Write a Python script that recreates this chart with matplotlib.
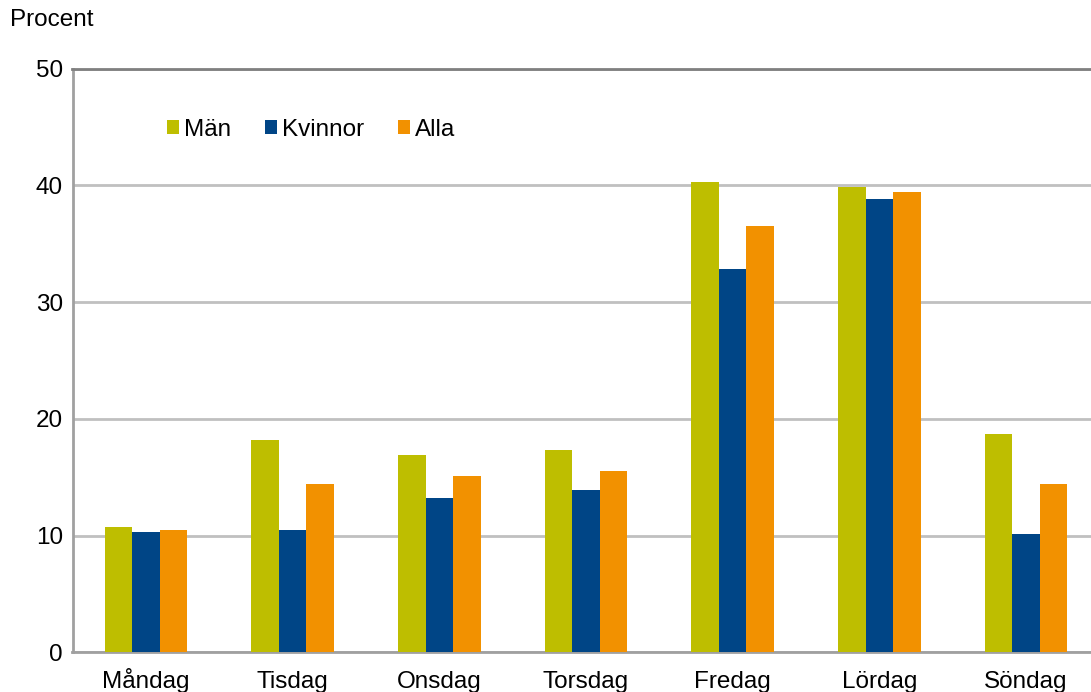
import matplotlib
matplotlib.use('Agg')
import matplotlib.pyplot as plt
import numpy as np

# data
dagar = ['Måndag', 'Tisdag', 'Onsdag', 'Torsdag', 'Fredag', 'Lördag', 'Söndag']
man = [10.7, 18.2, 16.9, 17.3, 40.3, 39.9, 18.7]
kvinnor = [10.3, 10.5, 13.2, 13.9, 32.8, 38.8, 10.1]
alla = [10.5, 14.4, 15.1, 15.5, 36.5, 39.4, 14.4]
yticks = [0, 10, 20, 30, 40, 50]

plt.rcParams['font.family'] = ['Liberation Sans', 'DejaVu Sans']
fs = 17.5

fig = plt.figure(figsize=(10.91, 6.92), dpi=100)
# plot area runs a little past the right edge of the picture, as in the original
ax = fig.add_axes([72.5 / 1091, 39.7 / 692, 1027 / 1091, 583.6 / 692])

x = np.arange(len(dagar))
w = 0.1875
ax.bar(x - w, man, w, color='#bebe00', label='Män', zorder=3)
ax.bar(x, kvinnor, w, color='#004586', label='Kvinnor', zorder=3)
ax.bar(x + w, alla, w, color='#f29100', label='Alla', zorder=3)

ax.set_xlim(-0.5, len(dagar) - 0.5)
ax.set_ylim(0, 50)
ax.set_yticks(yticks)
ax.set_xticks(x)
ax.set_xticklabels(dagar, va='baseline')
ax.tick_params(axis='both', length=0, labelsize=fs, colors='black')
ax.tick_params(axis='x', pad=26)
ax.tick_params(axis='y', pad=7)

ax.yaxis.grid(True, color='#c0c0c0', linewidth=2, zorder=0)
ax.set_axisbelow(True)
for s in ['left', 'bottom']:
    ax.spines[s].set_color('#a0a0a0')
    ax.spines[s].set_linewidth(2)
ax.spines['top'].set_color('#808080')
ax.spines['top'].set_linewidth(2)
ax.spines['right'].set_visible(False)

fig.text(10 / 1091, 1 - 20 / 692, 'Procent', fontsize=fs, va='center', ha='left')

ax.legend(loc='center left', bbox_to_anchor=(167 / 1091, 1 - 130 / 692),
          bbox_transform=fig.transFigure, ncol=3, frameon=False,
          fontsize=fs, borderpad=0, borderaxespad=0,
          handlelength=0.5, handleheight=0.5, handletextpad=0.2,
          columnspacing=1.4)

fig.savefig('out.png', dpi=100)
